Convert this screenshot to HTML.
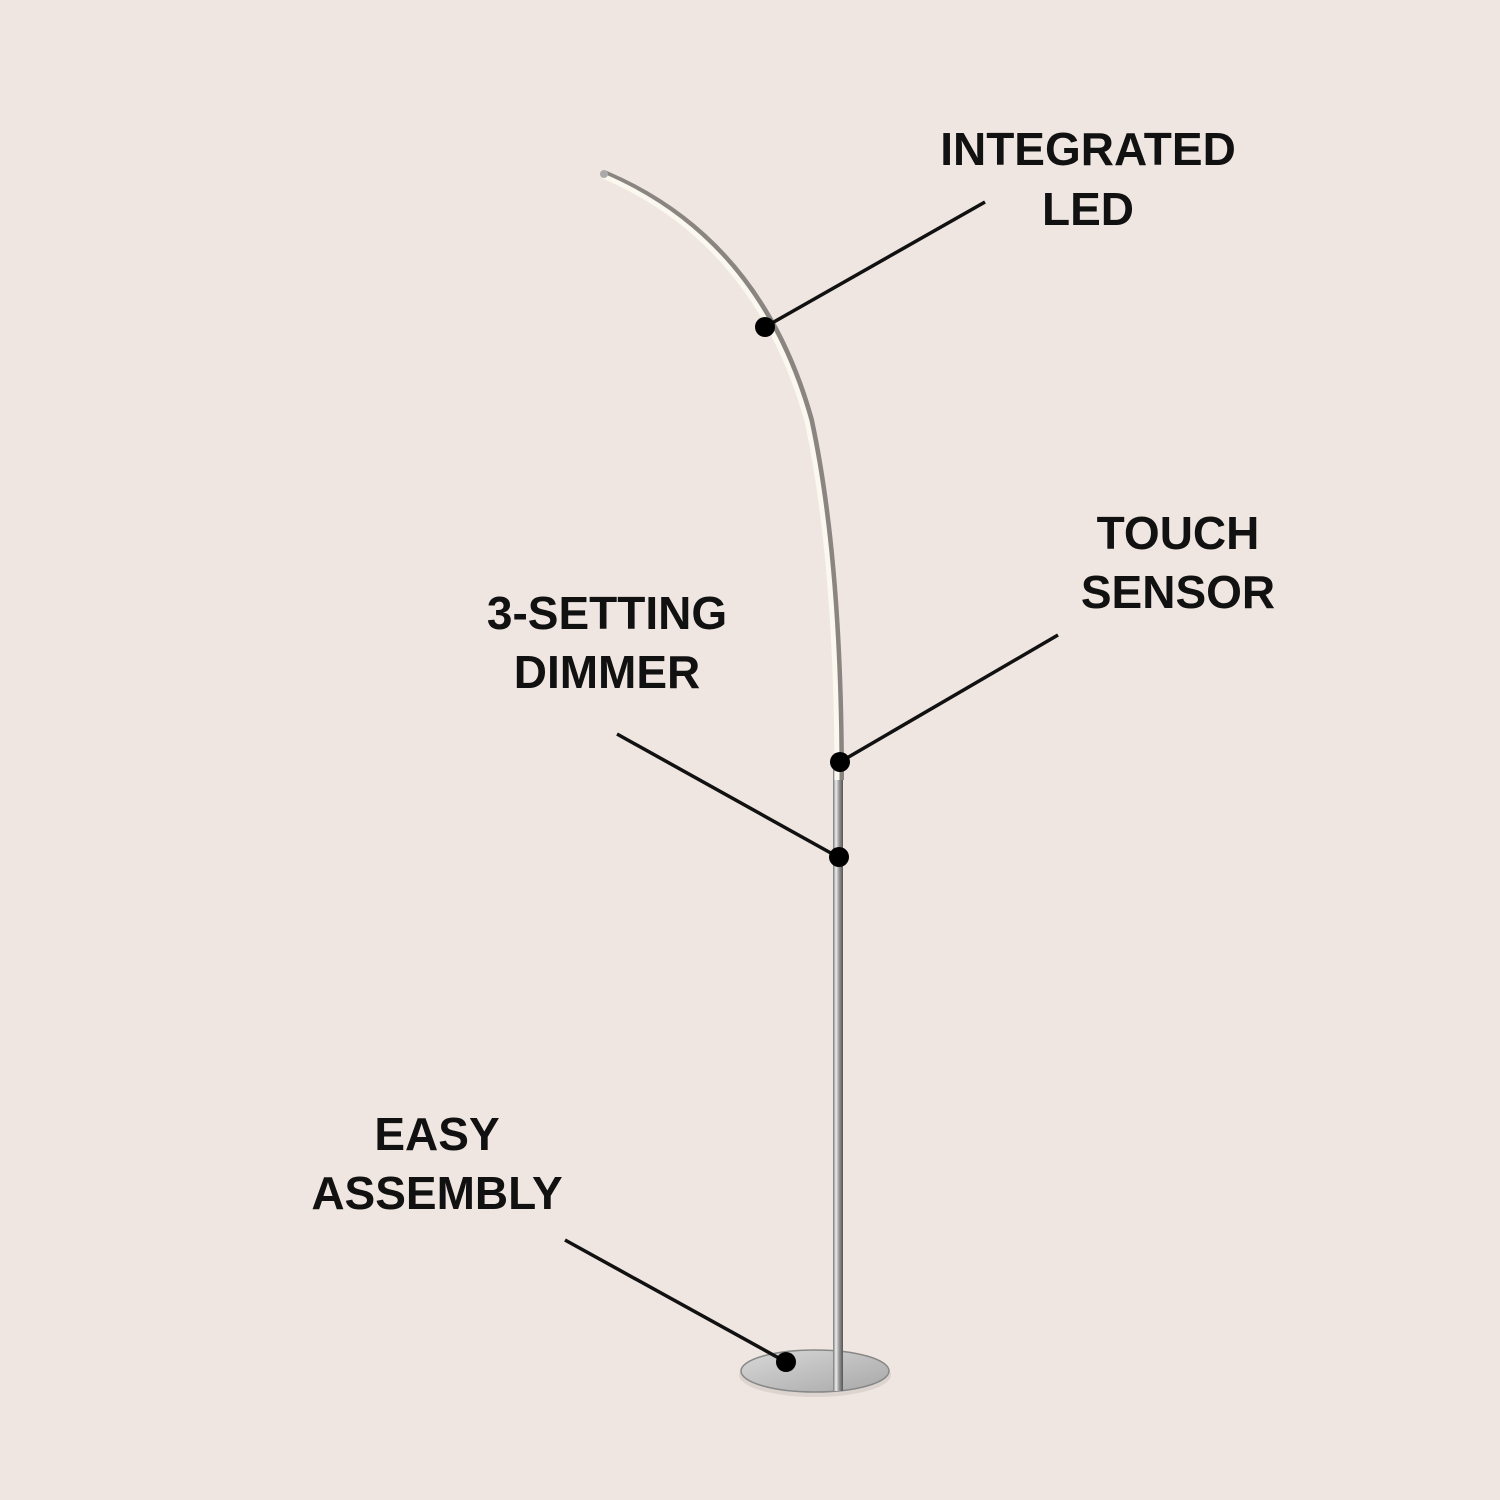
<!DOCTYPE html>
<html><head><style>
html,body{margin:0;padding:0;background:#efe6e1;}
svg{display:block;}
text{font-family:"Liberation Sans",sans-serif;font-weight:bold;font-size:46px;fill:#111;text-anchor:middle;}
</style></head><body>
<svg width="1500" height="1500" viewBox="0 0 1500 1500">
<rect width="1500" height="1500" fill="#efe6e1"/>
<defs>
<linearGradient id="pole" x1="0" x2="1">
<stop offset="0" stop-color="#777"/><stop offset="0.3" stop-color="#eee"/><stop offset="0.6" stop-color="#999"/><stop offset="1" stop-color="#555"/>
</linearGradient>
<linearGradient id="base" x1="0" x2="1" y1="0" y2="1">
<stop offset="0" stop-color="#d8d8d8"/><stop offset="1" stop-color="#a8a8a8"/>
</linearGradient>
</defs>
<ellipse cx="815" cy="1375" rx="76" ry="22" fill="#d0c8c4" opacity="0.6"/>
<ellipse cx="815" cy="1371" rx="74" ry="21" fill="url(#base)" stroke="#888" stroke-width="1.5"/>
<rect x="833" y="770" width="10" height="621" fill="url(#pole)"/>
<path d="M604,174 Q760,240 810,420 Q840,560 840,780" fill="none" stroke="#8a8580" stroke-width="8"/>
<path d="M603,176 Q757,242 807,421 Q837,561 837,780" fill="none" stroke="#fbf8ef" stroke-width="5"/>
<circle cx="604" cy="174" r="4" fill="#aaa"/>
<g stroke="#111" stroke-width="3.5">
<line x1="985" y1="202" x2="765" y2="327"/>
<line x1="1058" y1="635" x2="840" y2="762"/>
<line x1="617" y1="734" x2="838" y2="857"/>
<line x1="565" y1="1240" x2="786" y2="1362"/>
</g>
<g fill="#000">
<circle cx="765" cy="327" r="10"/>
<circle cx="840" cy="762" r="10"/>
<circle cx="839" cy="857" r="10"/>
<circle cx="786" cy="1362" r="10"/>
</g>
<text x="1088" y="165">INTEGRATED</text>
<text x="1088" y="225">LED</text>
<text x="1178" y="549">TOUCH</text>
<text x="1178" y="608">SENSOR</text>
<text x="607" y="629">3-SETTING</text>
<text x="607" y="688">DIMMER</text>
<text x="437" y="1150">EASY</text>
<text x="437" y="1209">ASSEMBLY</text>
</svg>
</body></html>
